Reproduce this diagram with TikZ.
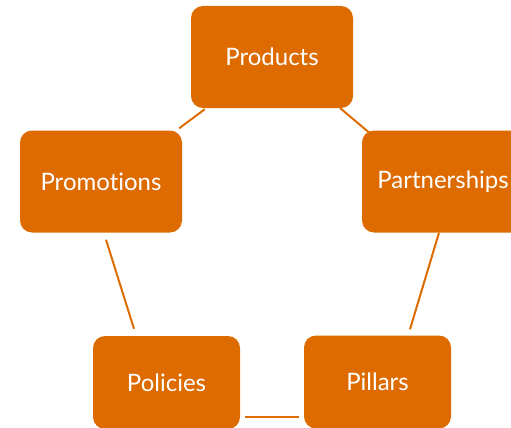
\documentclass[tikz,border=0pt]{standalone}
\usepackage{fontspec}
\setmainfont{Lato}[Ligatures=NoCommon]
\usetikzlibrary{calc}
\definecolor{pillarorange}{RGB}{221,107,0}
\tikzset{
  pillarbox/.style={fill=pillarorange,rounded corners=12pt,text=white,
    font=\fontsize{24}{27}\selectfont,inner sep=0pt},
  pillarlink/.style={draw=pillarorange,line width=2pt}
}
\begin{document}
\begin{tikzpicture}[x=1pt,y=-1pt]
\pgfmathsetmacro{\kwide}{162}
\pgfmathsetmacro{\knarrow}{147}
\pgfmathsetmacro{\khigh}{102}
\pgfmathsetmacro{\klow}{93}
\useasboundingbox (0,0) rectangle (511,428);
\node[pillarbox,minimum width=\kwide,minimum height=\khigh](prod) at (272,57){Products};
\node[pillarbox,minimum width=\kwide,minimum height=\khigh](part) at (443,181.5){Partnerships};
\node[pillarbox,minimum width=\kwide,minimum height=\khigh](promo) at (101,181.5){Promotions};
\node[pillarbox,minimum width=\knarrow,minimum height=\klow](pol) at (166.5,382.5){Policies};
\node[pillarbox,minimum width=\knarrow,minimum height=\klow](pill) at (377.5,382){Pillars};
% links sit in the gaps between the boxes
\draw[pillarlink]($(prod.south west)+(14,1)$)--($(promo.north east)+(-3,-2)$);
\draw[pillarlink]($(prod.south east)+(-13,0)$)--($(part.north west)+(7,2)$);
\draw[pillarlink]($(promo.south)+(5,7)$)--($(pol.north)+(-32.5,-7)$);
\draw[pillarlink]($(part.south)+(-4,0)$)--($(pill.north)+(32.5,-6)$);
\draw[pillarlink]($(pol.east)+(5,34.5)$)--($(pill.west)+(-5,35)$);
%\draw[gray,dashed](0,0) rectangle (511,428);
\end{tikzpicture}
\end{document}
